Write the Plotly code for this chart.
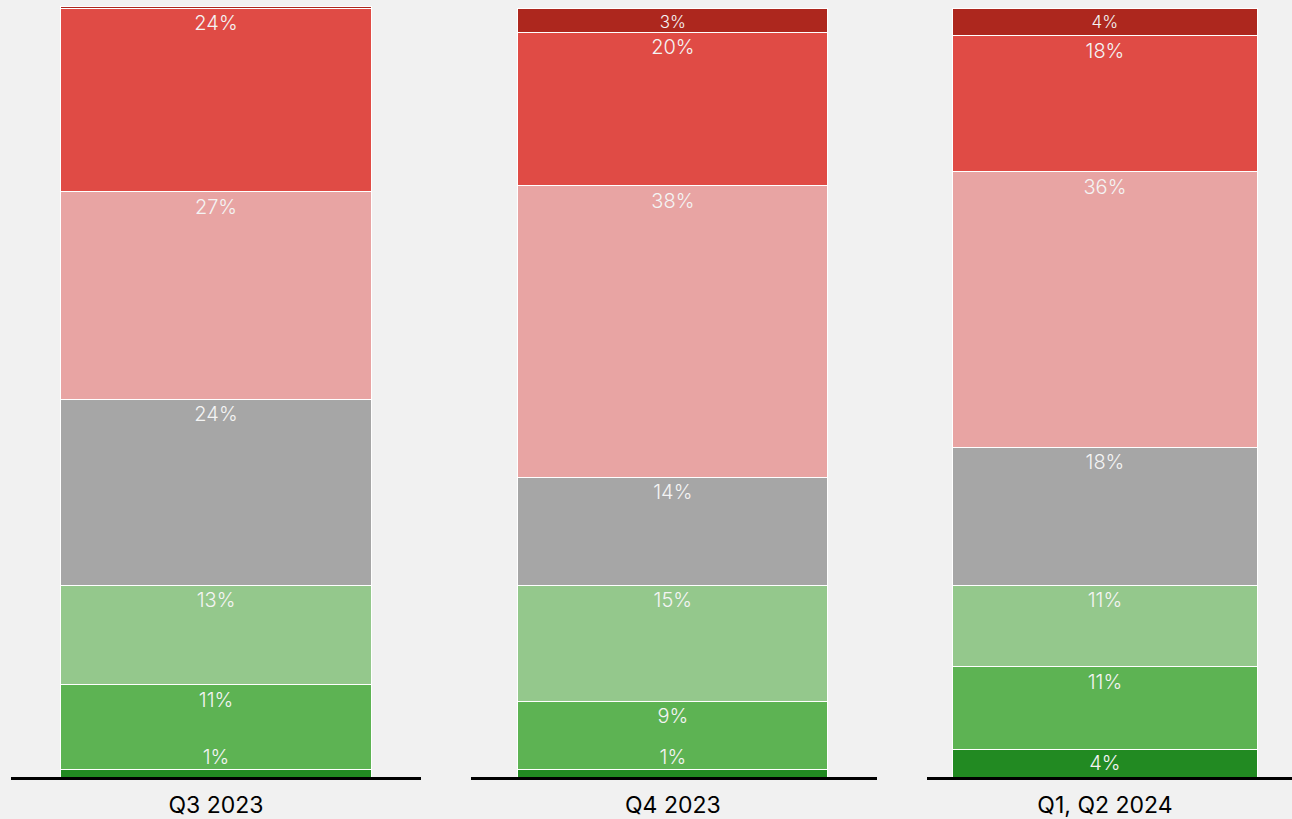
import plotly.graph_objects as go
from plotly.subplots import make_subplots

# periods shown, one panel each
periods = ["Q3 2023", "Q4 2023", "Q1, Q2 2024"]

# answer groups, from the bottom of the stack to the top
groups = ["Strong positive", "Positive", "Slightly positive", "Neutral",
          "Slightly negative", "Negative", "Strong negative"]

# share of answers in % per period
strong_positive = [1.04, 1.04, 3.64]
positive = [10.95, 8.83, 10.69]
slightly_positive = [12.99, 15.11, 10.65]
neutral = [24.16, 14.03, 17.93]
slightly_negative = [26.98, 37.93, 35.85]
negative = [23.90, 19.97, 17.67]
strong_negative = [0.21, 3.03, 3.51]

series = [strong_positive, positive, slightly_positive, neutral,
          slightly_negative, negative, strong_negative]

colors = ["#228a22", "#5db353", "#94c88c", "#a6a6a6",
          "#e8a4a3", "#e04b45", "#ad271e"]

bg = "#f1f1f1"
font_name = "Inter"
label_color = "#f4f4f4"

fig = make_subplots(rows=1, cols=3, horizontal_spacing=0.04)

for s_idx, (name, values, color) in enumerate(zip(groups, series, colors)):
    for p_idx, period in enumerate(periods):
        v = values[p_idx]
        label = f"{round(v)}%" if v >= 0.5 else ""
        thin = v < 2
        size = 20
        anchor = "end"
        if s_idx == 0:
            anchor = "middle"
        if s_idx == len(groups) - 1:
            size = 17
        fig.add_trace(go.Bar(
            x=[period],
            y=[v],
            name=name,
            text=[""] if thin else [label],
            textposition="inside",
            insidetextanchor=anchor,
            constraintext="none",
            width=0.8,
            marker=dict(color=color, line=dict(color="white", width=1)),
            textfont=dict(color=label_color, size=size, family=font_name,
                          weight=300),
            showlegend=False,
            hoverinfo="skip",
        ), row=1, col=p_idx + 1)

        # labels of the thin bottom segments sit just above the bar
        if thin and s_idx == 0:
            fig.add_trace(go.Scatter(
                x=[period],
                y=[v],
                mode="text",
                text=[label],
                textposition="top center",
                textfont=dict(color=label_color, size=size, family=font_name,
                              weight=300),
                showlegend=False,
                hoverinfo="skip",
            ), row=1, col=p_idx + 1)

fig.update_layout(
    barmode="stack",
    width=1292,
    height=819,
    margin=dict(l=0, r=0, t=0, b=42),
    paper_bgcolor=bg,
    plot_bgcolor=bg,
    font=dict(family=font_name, color="black"),
)

# panel positions and x ranges so bars sit where they do in the picture
domains = [[11 / 1292, 421 / 1292], [471 / 1292, 877 / 1292], [927 / 1292, 1.0]]
ranges = [[-0.529, 0.529], [-0.521, 0.527], [-0.468, 0.492]]
for i in range(3):
    fig.update_xaxes(domain=domains[i], range=ranges[i],
                     showline=True, linecolor="black", linewidth=3,
                     showgrid=False, zeroline=False, ticks="",
                     ticklabelstandoff=5,
                     tickfont=dict(size=23, color="black", family=font_name),
                     fixedrange=True, row=1, col=i + 1)
    fig.update_yaxes(range=[0, 101.1], visible=False, showgrid=False,
                     zeroline=False, fixedrange=True, row=1, col=i + 1)

fig.write_html(
    "out.html",
    config={"displayModeBar": False},
    post_script="document.body.style.margin='0px';"
                "document.body.style.backgroundColor='" + bg + "';",
)
